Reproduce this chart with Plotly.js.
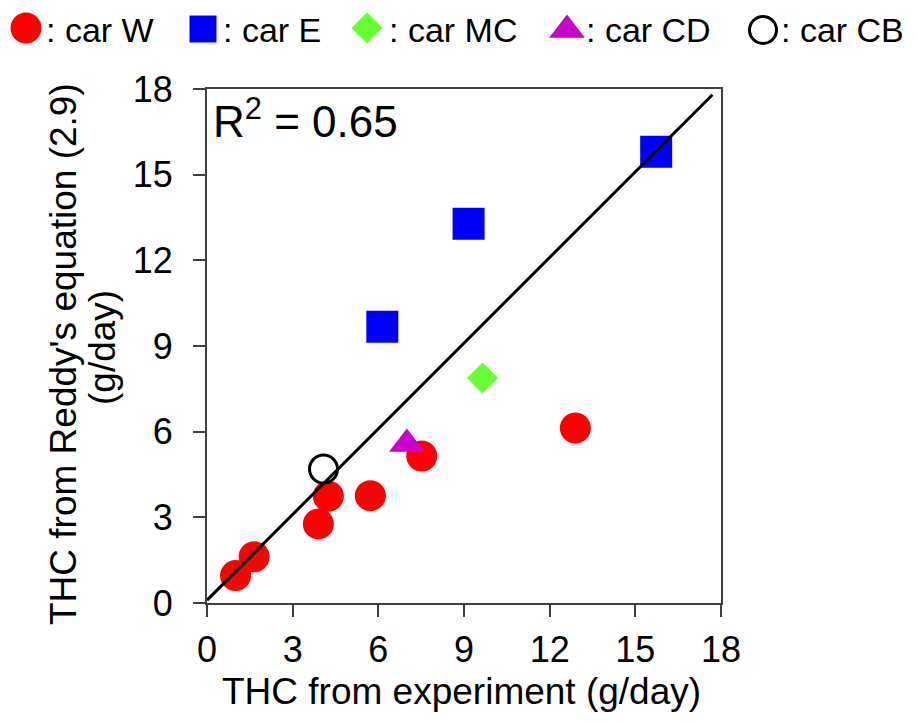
<!DOCTYPE html>
<html>
<head>
<meta charset="utf-8">
<script src="https://cdn.plot.ly/plotly-3.0.1.min.js"></script>
<style>html,body{margin:0;padding:0;background:#fff;}#chart{width:918px;height:722px;}</style>
</head>
<body>
<div id="chart"></div>
<script>
// ---- data ----
var seriesNames = ['car W', 'car E', 'car MC', 'car CD', 'car CB'];
var carW_x = [1.0, 1.65, 3.9, 4.25, 5.72, 7.52, 12.9];
var carW_y = [0.96, 1.62, 2.77, 3.74, 3.76, 5.15, 6.13];
var carE_x = [6.14, 9.16, 15.73];
var carE_y = [9.67, 13.28, 15.8];
var carMC_x = [9.65];
var carMC_y = [7.88];
var carCD_x = [7.0];
var carCD_y = [5.57];
var carCB_x = [4.08];
var carCB_y = [4.69];
var fit_x = [0, 17.7];
var fit_y = [0.1, 17.8];
var tickVals = [0, 3, 6, 9, 12, 15, 18];
var tickText = ['0', '3', '6', '9', '12', '15', '18'];
var rSquared = '0.65';
var xTitle = 'THC from experiment (g/day)';
var yTitleLine1 = "THC from Reddy's equation (2.9)";
var yTitleLine2 = '(g/day)';

// ---- styles ----
var FONT = 'Liberation Sans, Arial, sans-serif';
var styles = [
  {symbol: 'circle', size: 31, color: '#ff0000', line: {width: 0}},
  {symbol: 'square', size: 32, color: '#0000ff', line: {width: 0}},
  {symbol: 'diamond', size: 24, color: '#66ff33', line: {width: 0}},
  {symbol: 'triangle-up', size: 31, color: '#cc00cc', line: {width: 0}},
  {symbol: 'circle', size: 28, color: '#ffffff', line: {width: 3, color: '#000000'}}
];
var seriesX = [carW_x, carE_x, carMC_x, carCD_x, carCB_x];
var seriesY = [carW_y, carE_y, carMC_y, carCD_y, carCB_y];

// figure geometry (pixels); the paper is the whole figure
var W = 918, H = 722;
var box = {left: 207, right: 721, top: 89, bottom: 603};
function fx(x) { return x / W; }
function fy(y) { return (H - y) / H; }

var traces = [];
for (var i = 0; i < seriesNames.length; i++) {
  traces.push({
    type: 'scatter', mode: 'markers', name: seriesNames[i],
    x: seriesX[i], y: seriesY[i], showlegend: false, cliponaxis: false,
    marker: {symbol: styles[i].symbol, size: styles[i].size, color: styles[i].color, line: styles[i].line}
  });
}
traces.push({
  type: 'scatter', mode: 'lines', x: fit_x, y: fit_y, showlegend: false,
  line: {color: '#000000', width: 3}
});

// custom legend row on a strip axis measured in pixels
var legMarkX = [26, 203, 367, 567, 763];
var legMarkY = [28, 29, 28, 30, 30];
var legTextX = [44, 221, 387, 584, 779];
var legendY = 30;
var annotations = [];
for (var j = 0; j < seriesNames.length; j++) {
  traces.push({
    type: 'scatter', mode: 'markers', xaxis: 'x2', yaxis: 'y2', showlegend: false,
    cliponaxis: false, hoverinfo: 'skip',
    x: [legMarkX[j]], y: [legMarkY[j]],
    marker: {symbol: styles[j].symbol, size: styles[j].size - (j === 1 ? 5 : 0) - (j === 4 ? 1 : 0),
             color: styles[j].color, line: styles[j].line}
  });
  annotations.push({
    xref: 'paper', yref: 'paper', x: fx(legTextX[j]), y: fy(legendY),
    xanchor: 'left', yanchor: 'middle', showarrow: false,
    text: ': ' + seriesNames[j], font: {family: FONT, size: 34, color: '#000'}
  });
}
annotations.push({
  xref: 'paper', yref: 'paper', x: fx(211), y: fy(119),
  xanchor: 'left', yanchor: 'middle', showarrow: false,
  text: 'R<sup>2</sup> = ' + rSquared, font: {family: FONT, size: 44, color: '#000'}
});
annotations.push({
  xref: 'paper', yref: 'paper', x: fx(63), y: fy(354),
  xanchor: 'center', yanchor: 'middle', showarrow: false, textangle: -90,
  text: yTitleLine1, font: {family: FONT, size: 37, color: '#000'}
});
annotations.push({
  xref: 'paper', yref: 'paper', x: fx(103), y: fy(348),
  xanchor: 'center', yanchor: 'middle', showarrow: false, textangle: -90,
  text: yTitleLine2, font: {family: FONT, size: 37, color: '#000'}
});
annotations.push({
  xref: 'paper', yref: 'paper', x: fx(461), y: fy(691),
  xanchor: 'center', yanchor: 'middle', showarrow: false,
  text: xTitle, font: {family: FONT, size: 37, color: '#000'}
});

var axisCommon = {
  range: [0, 18], tickmode: 'array', tickvals: tickVals, ticktext: tickText,
  ticks: 'outside', ticklen: 12, tickwidth: 2, tickcolor: '#404040',
  showline: true, linewidth: 2, linecolor: '#404040', mirror: true,
  showgrid: false, zeroline: false, fixedrange: true,
  tickfont: {family: FONT, size: 36, color: '#000'}
};
var xaxis = Object.assign({}, axisCommon, {
  domain: [fx(box.left), fx(box.right)], anchor: 'y', ticklabelstandoff: 2
});
var yaxis = Object.assign({}, axisCommon, {
  domain: [fy(box.bottom), fy(box.top)], anchor: 'x', ticklabelstandoff: 13
});

var layout = {
  width: W, height: H, margin: {l: 0, r: 0, t: 0, b: 0, pad: 0},
  paper_bgcolor: '#ffffff', plot_bgcolor: '#ffffff',
  showlegend: false,
  xaxis: xaxis, yaxis: yaxis,
  xaxis2: {domain: [0, 1], range: [0, W], anchor: 'y2', visible: false, fixedrange: true},
  yaxis2: {domain: [fy(60), 1], range: [60, 0], anchor: 'x2', visible: false, fixedrange: true},
  annotations: annotations
};
Plotly.newPlot('chart', traces, layout, {displayModeBar: false, staticPlot: true});
</script>
</body>
</html>
